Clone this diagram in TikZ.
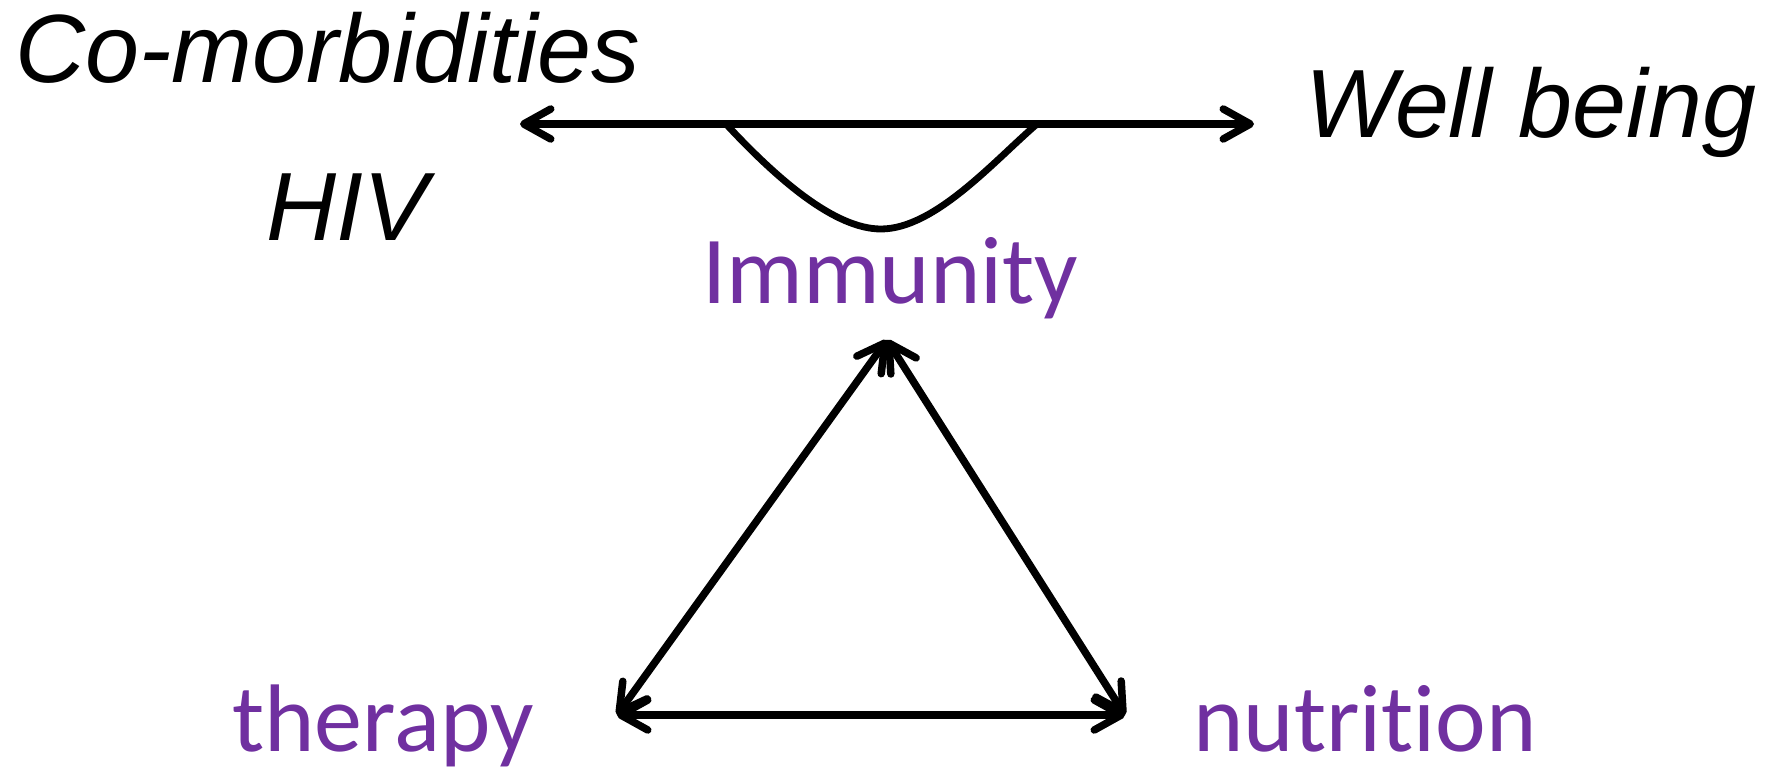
\documentclass[tikz,border=0pt]{standalone}
\usepackage{fontspec}
\setmainfont{Liberation Sans}
\newfontfamily\calib[Ligatures={NoCommon}]{Carlito}
\usetikzlibrary{arrows.meta}
\definecolor{purp}{HTML}{7030A0}
\begin{document}
\begin{tikzpicture}[x=1pt,y=-1pt,
  blk/.style={font=\fontsize{97}{110}\selectfont\itshape, inner sep=0pt, anchor=base west},
  pur/.style={font=\calib\fontsize{96}{110}\selectfont, text=purp, inner sep=0pt, anchor=base west},
  barb/.tip={Straight Barb[length=27pt,width=30pt,round]},
  conn/.style={line width=7.5pt, barb-barb},
  curve/.style={line width=6.8pt}]
\useasboundingbox (0,0) rectangle (1771,767);
% labels
\node[blk] (como) at (15,83) {Co-morbidities};
\node[blk] (well) at (1305,138) {Well being};
\node[blk] (hiv) at (266,241) {HIV};
\node[pur] (imm) at (702,303) {Immunity};
\node[pur] (ther) at (232,751) {therapy};
\node[pur] (nutr) at (1193,751) {nutrition};
% connector end points
\coordinate (L) at (520,124);
\coordinate (R) at (1254,124);
\coordinate (A) at (887,340);
\coordinate (T) at (617,715);
\coordinate (N) at (1125,715);
\coordinate (c1) at (726,124);
\coordinate (cm) at (881,229);
\coordinate (c2) at (1037,124);
% arrows
\draw[conn] (L) -- (R);
\draw[curve] (c1) .. controls (778,180) and (835,229) .. (cm)
                  .. controls (935,229) and (995,160) .. (c2);
\draw[conn] (T) -- (A);
\draw[conn] (N) -- (A);
\draw[conn] (T) -- (N);
\end{tikzpicture}
\end{document}
